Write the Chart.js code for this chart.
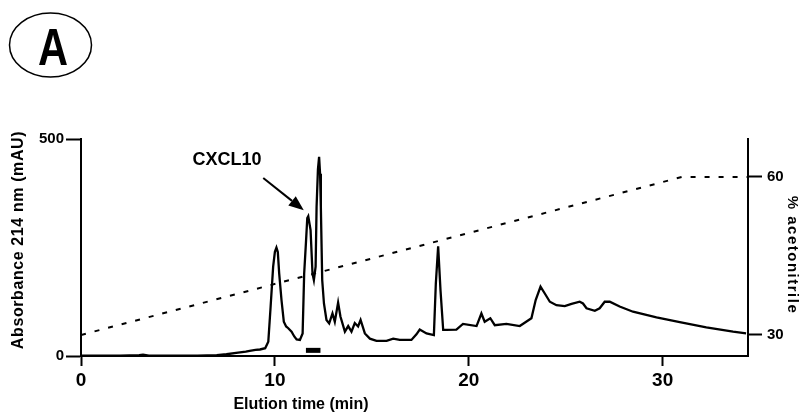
<!DOCTYPE html>
<html lang="en">
<head>
<meta charset="utf-8" />
<title>CXCL10 elution profile</title>
<script src="https://cdn.jsdelivr.net/npm/chart.js"></script>
<style>
  html, body { margin: 0; padding: 0; background: #fff; }
</style>
</head>
<body>
<canvas id="elutionChart" width="802" height="418"></canvas>
<script>
// absorbance trace
const elutionTime = [0, 1, 2, 3, 3.2, 3.5, 5, 6, 7, 7.5, 8, 8.5, 8.7, 9.0, 9.23, 9.5, 9.66, 9.78, 9.91, 10.0,
  10.08, 10.15, 10.22, 10.34, 10.46, 10.58, 10.69, 10.86, 11.0, 11.12, 11.29, 11.43, 11.51, 11.6, 11.67, 11.72,
  11.84, 11.94, 12.01, 12.1, 12.15, 12.22, 12.28, 12.33, 12.37, 12.44, 12.53, 12.66, 12.8, 12.97, 13.09, 13.26,
  13.38, 13.61, 13.78, 13.95, 14.12, 14.29, 14.42, 14.64, 14.9, 15.24, 15.76, 16.1, 16.44, 17.04, 17.3, 17.47,
  17.82, 18.2, 18.3, 18.42, 18.54, 18.68, 18.85, 19.36, 19.7, 20.4, 20.65, 20.82, 21.11, 21.34, 21.94, 22.63,
  23.23, 23.45, 23.7, 23.92, 24.18, 24.52, 24.95, 25.3, 25.72, 25.89, 26.07, 26.5, 26.75, 27.01, 27.27, 27.78,
  28.47, 29.68, 30.88, 32.25, 33.63, 34.3];
const absorbance = [1, 1, 1, 2, 3, 1, 1, 1, 2, 4, 7, 10, 12, 14, 15, 18, 33, 114, 206, 240,
  250, 240, 191, 129, 79, 68, 64, 56, 45, 38, 37, 52, 190, 260, 318, 322,
  290, 190, 175, 206, 344, 430, 459, 420, 344, 175, 121, 83, 75, 98, 79, 123,
  91, 56, 69, 56, 76, 68, 83, 52, 40, 35, 35, 40, 37, 37, 50, 61,
  52, 48, 167, 253, 152, 60, 60, 61, 74, 69, 98, 79, 87, 71, 74, 69,
  87, 129, 160, 144, 125, 117, 115, 120, 125, 121, 110, 104, 110, 125, 125, 114,
  102, 89, 78, 66, 56, 52];

// acetonitrile gradient (%)
const gradientTime = [0, 31, 34.4];
const acetonitrile = [30, 60, 60];

// collected fraction marker under the CXCL10 peak
const fractionTime = [11.6, 12.35];
const fractionLevel = [13, 13];

const timeTicks = [0, 10, 20, 30];
const absTicks = [0, 500];
const acnTicks = [30, 60];

const font = '"Liberation Sans", Arial, sans-serif';

function pts(xs, ys) {
  return xs.map((v, i) => ({ x: v, y: ys[i] }));
}

// panel letter, axis titles and the CXCL10 arrow
const labelsPlugin = {
  id: 'labels',
  afterDraw(chart) {
    const { ctx, scales: { x, y } } = chart;
    ctx.save();
    ctx.fillStyle = '#000';
    ctx.strokeStyle = '#000';

    // circled "A"
    ctx.lineWidth = 1.5;
    ctx.beginPath();
    ctx.ellipse(50.5, 45, 41, 32, 0, 0, Math.PI * 2);
    ctx.stroke();
    ctx.save();
    ctx.translate(53, 65);
    ctx.scale(0.8, 1);
    ctx.font = 'bold 52px ' + font;
    ctx.textAlign = 'center';
    ctx.textBaseline = 'alphabetic';
    ctx.fillText('A', 0, 0);
    ctx.restore();

    // x title
    ctx.font = 'bold 16px ' + font;
    ctx.textAlign = 'center';
    ctx.textBaseline = 'middle';
    ctx.fillText('Elution time (min)', 301, 405);

    // left title
    ctx.save();
    ctx.translate(19, 240);
    ctx.rotate(-Math.PI / 2);
    ctx.letterSpacing = '0.6px';
    ctx.fillText('Absorbance 214 nm (mAU)', 0, 0);
    ctx.restore();

    // right title
    ctx.save();
    ctx.translate(792, 255);
    ctx.rotate(Math.PI / 2);
    ctx.font = 'bold 15px ' + font;
    ctx.letterSpacing = '1.5px';
    ctx.fillText('% acetonitrile', 0, 0);
    ctx.restore();

    // CXCL10 label + arrow
    ctx.font = 'bold 18px ' + font;
    ctx.textBaseline = 'alphabetic';
    ctx.fillText('CXCL10', x.getPixelForValue(7.53), y.getPixelForValue(440));
    const x0 = x.getPixelForValue(9.4), y0 = y.getPixelForValue(410);
    const x1 = x.getPixelForValue(11.49), y1 = y.getPixelForValue(336);
    const ang = Math.atan2(y1 - y0, x1 - x0);
    const head = 15, half = 6;
    const bx = x1 - head * Math.cos(ang), by = y1 - head * Math.sin(ang);
    ctx.lineWidth = 2;
    ctx.beginPath();
    ctx.moveTo(x0, y0);
    ctx.lineTo(bx, by);
    ctx.stroke();
    ctx.beginPath();
    ctx.moveTo(x1, y1);
    ctx.lineTo(bx + half * Math.sin(ang), by - half * Math.cos(ang));
    ctx.lineTo(bx - half * Math.sin(ang), by + half * Math.cos(ang));
    ctx.closePath();
    ctx.fill();
    ctx.restore();
  }
};

const axisLine = { display: true, color: '#000', width: 2 };

new Chart(document.getElementById('elutionChart'), {
  type: 'line',
  data: {
    datasets: [
      {
        label: 'Absorbance',
        data: pts(elutionTime, absorbance),
        yAxisID: 'y',
        borderColor: '#000',
        borderWidth: 2.3,
        pointRadius: 0,
        tension: 0
      },
      {
        label: '% acetonitrile',
        data: pts(gradientTime, acetonitrile),
        yAxisID: 'y2',
        borderColor: '#000',
        borderWidth: 2,
        borderDash: [5, 9],
        pointRadius: 0,
        tension: 0
      },
      {
        label: 'Fraction',
        data: pts(fractionTime, fractionLevel),
        yAxisID: 'y',
        borderColor: '#000',
        borderWidth: 5,
        borderCapStyle: 'butt',
        pointRadius: 0
      }
    ]
  },
  options: {
    responsive: false,
    animation: false,
    devicePixelRatio: 1,
    layout: { padding: { top: 139, left: 0, right: 0, bottom: 0 } },
    plugins: { legend: { display: false }, tooltip: { enabled: false } },
    scales: {
      x: {
        type: 'linear',
        min: 0,
        max: 34.4,
        afterBuildTicks: s => { s.ticks = timeTicks.map(v => ({ value: v })); },
        afterFit: s => { s.height = 62; },
        border: axisLine,
        grid: { drawOnChartArea: false, drawTicks: true, tickLength: 10, tickWidth: 2, tickColor: '#000' },
        ticks: { color: '#000', padding: 3, maxRotation: 0, font: { family: font, weight: 'bold', size: 19 } }
      },
      y: {
        position: 'left',
        min: 0,
        max: 500,
        afterBuildTicks: s => { s.ticks = absTicks.map(v => ({ value: v })); },
        afterFit: s => { s.width = 81; },
        border: axisLine,
        grid: { drawOnChartArea: false, drawTicks: true, tickLength: 15, tickWidth: 2, tickColor: '#000' },
        ticks: { color: '#000', padding: 2, font: { family: font, weight: 'bold', size: 15 } }
      },
      y2: {
        position: 'right',
        min: 26,
        max: 67.2,
        afterBuildTicks: s => { s.ticks = acnTicks.map(v => ({ value: v })); },
        afterFit: s => { s.width = 54; },
        border: axisLine,
        grid: { drawOnChartArea: false, drawTicks: true, tickLength: 14, tickWidth: 2, tickColor: '#000' },
        ticks: { color: '#000', padding: 5, font: { family: font, weight: 'bold', size: 15 } }
      }
    }
  },
  plugins: [labelsPlugin]
});
</script>
</body>
</html>
